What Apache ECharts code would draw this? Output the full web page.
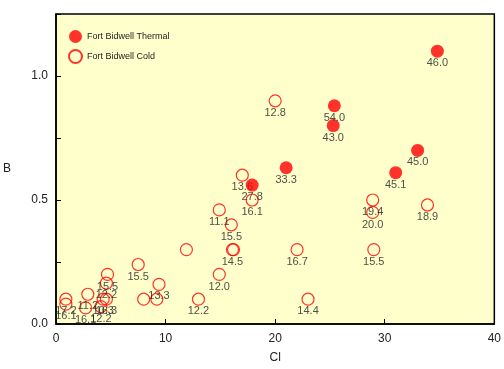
<!DOCTYPE html>
<html><head><meta charset="utf-8">
<script src="https://cdn.jsdelivr.net/npm/echarts@6/dist/echarts.min.js"></script>
<style>html,body{margin:0;padding:0;background:#fff}#c{width:504px;height:369px}</style>
</head><body><div id="c"></div>
<script>
const seriesNames = ["Fort Bidwell Thermal", "Fort Bidwell Cold"];
// Thermal: Cl, B, label
const thermalCl = [34.8, 25.4, 25.3, 21.0, 17.9, 33.0, 31.0];
const thermalB  = [1.10, 0.88, 0.80, 0.63, 0.56, 0.70, 0.61];
const thermalLbl = ["46.0", "54.0", "43.0", "33.3", "27.8", "45.0", "45.1"];
// Cold
const coldCl = [20.0, 17.0, 17.9, 28.9, 28.9, 33.9, 29.0, 22.0, 23.0, 14.9, 16.0, 16.1, 16.2, 11.9, 14.9, 7.5, 9.4, 8.0, 9.2, 13.0, 4.7, 4.6, 2.9, 4.3, 4.6, 0.9, 0.9, 2.7, 4.1];
const coldB  = [0.90, 0.60, 0.50, 0.50, 0.45, 0.48, 0.30, 0.30, 0.10, 0.46, 0.40, 0.30, 0.30, 0.30, 0.20, 0.24, 0.16, 0.10, 0.10, 0.10, 0.20, 0.165, 0.12, 0.10, 0.10, 0.10, 0.08, 0.065, 0.07];
const coldLbl = ["12.8", "13.6", "16.1", "19.4", "20.0", "18.9", "15.5", "16.7", "14.4", "11.1", "15.5", "14.5", "", "", "12.0", "15.5", "13.3", "", "", "12.2", "15.5", "12.2", "11.2", "10.3", "16.3", "17.2", "16.1", "16.1", "12.2"];
const xTicks = [0, 10, 20, 30, 40];
const yTickLabels = {"0": "0.0", "0.5": "0.5", "1": "1.0"};

const toData = (xs, ys, ls) => xs.map((x, i) => [x, ys[i], ls[i]]);
const chart = echarts.init(document.getElementById('c'));
const lbl = {show: true, position: 'bottom', distance: 0, fontSize: 11, color: '#222',
  fontFamily: 'Liberation Sans, Arial, sans-serif', formatter: p => p.value[2]};
chart.setOption({
  animation: false,
  backgroundColor: '#fff',
  textStyle: {fontFamily: 'Liberation Sans, Arial, sans-serif'},
  grid: {left: 53, right: 5, top: 14, bottom: 40, show: true, backgroundColor: '#ffffcc', borderColor: '#000', borderWidth: 1.5},
  legend: {orient: 'vertical', left: 63, top: 25, itemGap: 6, itemWidth: 13, itemHeight: 13,
    textStyle: {fontSize: 9, color: '#222'}, data: seriesNames},
  xAxis: {type: 'value', min: xTicks[0], max: xTicks[xTicks.length - 1], interval: 10,
    name: 'Cl', nameLocation: 'middle', nameGap: 28, nameTextStyle: {fontSize: 12, color: '#222'},
    axisLine: {show: true, lineStyle: {color: '#000', width: 1.5}},
    axisTick: {show: true, inside: true, length: 5, lineStyle: {color: '#000'}},
    axisLabel: {fontSize: 12, color: '#222', margin: 9},
    splitLine: {show: false}},
  yAxis: {type: 'value', min: 0, max: 1.25, interval: 0.25,
    name: 'B', nameLocation: 'middle', nameGap: 45, nameRotate: 0, nameTextStyle: {fontSize: 12, color: '#222'},
    axisLine: {show: true, lineStyle: {color: '#000', width: 1.5}},
    axisTick: {show: true, inside: true, length: 5, lineStyle: {color: '#000'}},
    axisLabel: {fontSize: 12, color: '#222', margin: 8, formatter: v => yTickLabels[String(v)] || ''},
    splitLine: {show: false}},
  series: [
    {name: seriesNames[1], type: 'scatter', symbol: 'circle', symbolSize: 12, z: 2,
      itemStyle: {color: 'rgba(255,255,204,0)', borderColor: '#ff0000', borderWidth: 1.2},
      label: lbl, data: toData(coldCl, coldB, coldLbl)},
    {name: seriesNames[0], type: 'scatter', symbol: 'circle', symbolSize: 13, z: 3,
      itemStyle: {color: '#ff0000'},
      label: lbl, data: toData(thermalCl, thermalB, thermalLbl)}
  ]
});
</script></body></html>
